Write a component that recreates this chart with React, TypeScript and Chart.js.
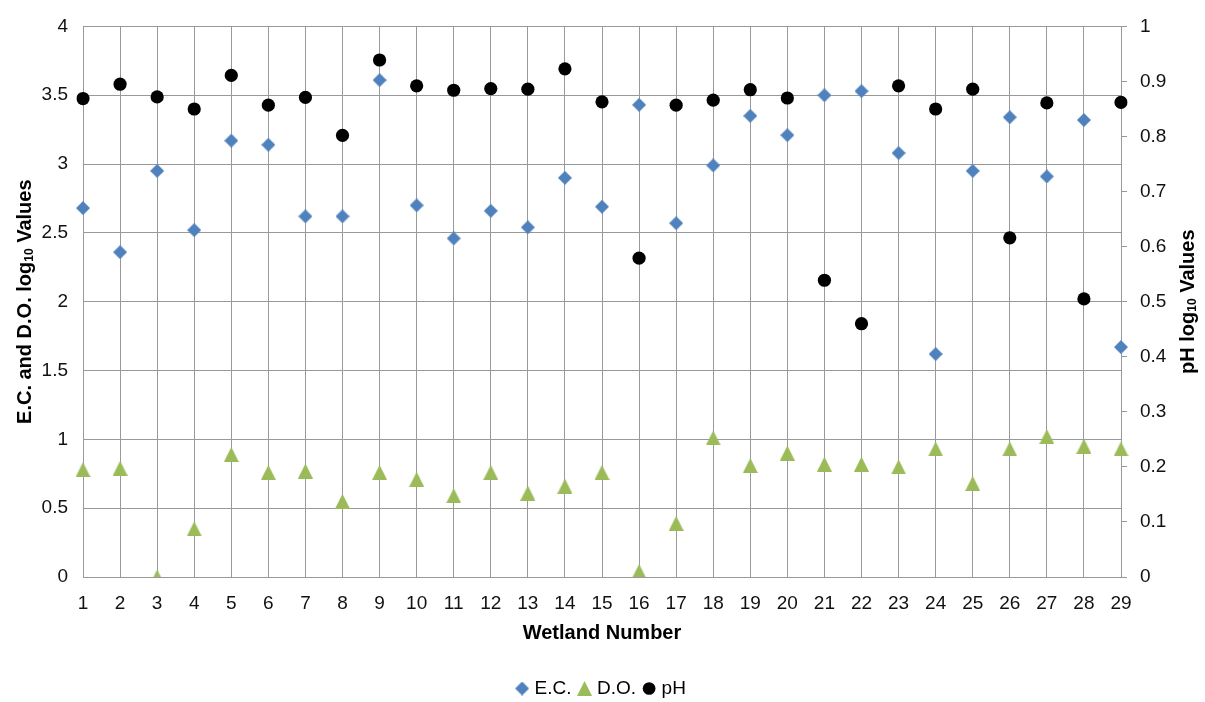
import React, { useEffect, useRef } from 'react';
import { Chart, registerables } from 'chart.js';

Chart.register(...registerables);

// ---- data ----
const wetlands: string[] = [
  '1', '2', '3', '4', '5', '6', '7', '8', '9', '10', '11', '12', '13', '14', '15',
  '16', '17', '18', '19', '20', '21', '22', '23', '24', '25', '26', '27', '28', '29',
];
const ecValues: number[] = [
  2.68, 2.36, 2.95, 2.52, 3.17, 3.14, 2.62, 2.62, 3.61, 2.70, 2.46, 2.66, 2.54, 2.90, 2.69,
  3.43, 2.57, 2.99, 3.35, 3.21, 3.50, 3.53, 3.08, 1.62, 2.95, 3.34, 2.91, 3.32, 1.67,
];
const doValues: number[] = [
  0.78, 0.79, 0.0, 0.35, 0.89, 0.76, 0.77, 0.55, 0.76, 0.71, 0.59, 0.76, 0.61, 0.66, 0.76,
  0.04, 0.39, 1.01, 0.81, 0.90, 0.82, 0.82, 0.80, 0.93, 0.68, 0.93, 1.02, 0.95, 0.93,
];
const phValues: number[] = [
  0.869, 0.895, 0.872, 0.850, 0.911, 0.857, 0.871, 0.802, 0.939, 0.892, 0.884, 0.887, 0.886, 0.923, 0.863,
  0.579, 0.857, 0.866, 0.885, 0.870, 0.539, 0.460, 0.892, 0.850, 0.886, 0.616, 0.861, 0.505, 0.862,
];
const seriesNames: string[] = ['E.C.', 'D.O.', 'pH'];
const xTitle = 'Wetland Number';
const leftTitleParts: { t: string; sub: boolean }[] = [
  { t: 'E.C. and D.O. log', sub: false },
  { t: '10', sub: true },
  { t: ' Values', sub: false },
];
const rightTitleParts: { t: string; sub: boolean }[] = [
  { t: 'pH log', sub: false },
  { t: '10', sub: true },
  { t: ' Values', sub: false },
];

const FONT = '"Liberation Sans", Arial, Helvetica, sans-serif';
const GRID = '#999999';
const BLUE = '#4F81BD';
const GREEN = '#9BBB59';

function drawRotatedTitle(ctx: CanvasRenderingContext2D, parts: { t: string; sub: boolean }[], x: number, y: number) {
  ctx.save();
  ctx.translate(x, y);
  ctx.rotate(-Math.PI / 2);
  ctx.textBaseline = 'middle';
  ctx.textAlign = 'left';
  ctx.fillStyle = '#000';
  const mainFont = `bold 20px ${FONT}`;
  const subFont = `bold 12px ${FONT}`;
  let total = 0;
  const widths = parts.map((p) => {
    ctx.font = p.sub ? subFont : mainFont;
    const w = ctx.measureText(p.t).width;
    total += w;
    return w;
  });
  let cx = -total / 2;
  parts.forEach((p, i) => {
    ctx.font = p.sub ? subFont : mainFont;
    ctx.fillText(p.t, cx, p.sub ? 4.5 : 0);
    cx += widths[i];
  });
  ctx.restore();
}

const titlePlugin = {
  id: 'axisTitles',
  afterDraw(chart: any) {
    const ctx = chart.ctx as CanvasRenderingContext2D;
    const ca = chart.chartArea;
    const cy = (ca.top + ca.bottom) / 2;
    drawRotatedTitle(ctx, leftTitleParts, 25, cy);
    drawRotatedTitle(ctx, rightTitleParts, 1188, cy);
  },
};

function makeMarker(kind: 'triangle' | 'diamond', color: string): HTMLCanvasElement {
  const c = document.createElement('canvas');
  const size = kind === 'triangle' ? 15 : 14;
  c.width = size;
  c.height = size;
  const ctx = c.getContext('2d')!;
  ctx.fillStyle = color;
  ctx.beginPath();
  if (kind === 'triangle') {
    ctx.moveTo(size / 2, 0);
    ctx.lineTo(size, size);
    ctx.lineTo(0, size);
  } else {
    ctx.moveTo(size / 2, 0);
    ctx.lineTo(size, size / 2);
    ctx.lineTo(size / 2, size);
    ctx.lineTo(0, size / 2);
  }
  ctx.closePath();
  ctx.fill();
  return c;
}

export default function App() {
  const ref = useRef<HTMLCanvasElement>(null);

  useEffect(() => {
    document.body.style.margin = '0';
    const tri = makeMarker('triangle', GREEN);
    const dia = makeMarker('diamond', BLUE);

    const tickFont = { family: FONT, size: 19 };

    const chart = new Chart(ref.current!, {
      type: 'line',
      data: {
        labels: wetlands,
        datasets: [
          {
            label: seriesNames[0],
            data: ecValues,
            yAxisID: 'y',
            showLine: false,
            pointStyle: dia as any,
            pointRadius: 7,
            pointHoverRadius: 7,
            pointBackgroundColor: BLUE,
            pointBorderColor: BLUE,
            pointBorderWidth: 0,
            backgroundColor: BLUE,
            borderColor: BLUE,
            borderWidth: 0,
          },
          {
            label: seriesNames[1],
            data: doValues,
            yAxisID: 'y',
            showLine: false,
            pointStyle: tri as any,
            pointRadius: 8,
            pointHoverRadius: 8,
            pointBackgroundColor: GREEN,
            pointBorderColor: GREEN,
            pointBorderWidth: 0,
            backgroundColor: GREEN,
            borderColor: GREEN,
            borderWidth: 0,
          },
          {
            label: seriesNames[2],
            data: phValues,
            yAxisID: 'y1',
            showLine: false,
            pointStyle: 'circle',
            pointRadius: 6.6,
            pointHoverRadius: 6.6,
            pointBackgroundColor: '#000',
            pointBorderColor: '#000',
            pointBorderWidth: 0,
            backgroundColor: '#000',
            borderColor: '#000',
            borderWidth: 0,
          },
        ],
      },
      options: {
        responsive: false,
        animation: false,
        devicePixelRatio: 1,
        layout: { padding: { top: 17, bottom: -6, left: 0, right: 0 } },
        plugins: {
          legend: {
            position: 'bottom',
            labels: {
              usePointStyle: true,
              boxWidth: 6,
              boxHeight: 9,
              padding: 10,
              color: '#000',
              font: { family: FONT, size: 19 },
            },
          },
          tooltip: { enabled: false },
        },
        scales: {
          x: {
            type: 'category',
            offset: false,
            grid: { color: GRID, drawTicks: false, offset: false },
            border: { color: GRID },
            ticks: { color: '#111', font: tickFont, padding: 15, autoSkip: false, maxRotation: 0 },
            title: {
              display: true,
              text: xTitle,
              color: '#000',
              font: { family: FONT, size: 20, weight: 'bold' },
              padding: { top: 0, bottom: 24 },
            },
            afterFit: (s: any) => {
              s.height = 92;
            },
          },
          y: {
            position: 'left',
            min: 0,
            max: 4,
            ticks: {
              stepSize: 0.5,
              padding: 15,
              color: '#111',
              font: tickFont,
              callback: (v: any) => String(Math.round(Number(v) * 10) / 10),
            },
            grid: { color: GRID, drawTicks: false },
            border: { color: GRID },
            afterFit: (s: any) => {
              s.width = 83;
            },
          },
          y1: {
            position: 'right',
            min: 0,
            max: 1,
            ticks: {
              stepSize: 0.1,
              padding: 13,
              color: '#111',
              font: tickFont,
              callback: (v: any) => String(Math.round(Number(v) * 10) / 10),
            },
            grid: { color: GRID, drawOnChartArea: false, drawTicks: true, tickLength: 6 },
            border: { color: GRID },
            afterFit: (s: any) => {
              s.width = 84;
            },
          },
        },
      } as any,
      plugins: [titlePlugin],
    });
    return () => chart.destroy();
  }, []);

  return (
    <div style={{ width: 1205, height: 702, position: 'relative' }}>
      <canvas ref={ref} width={1205} height={702} style={{ display: 'block' }} />
    </div>
  );
}
